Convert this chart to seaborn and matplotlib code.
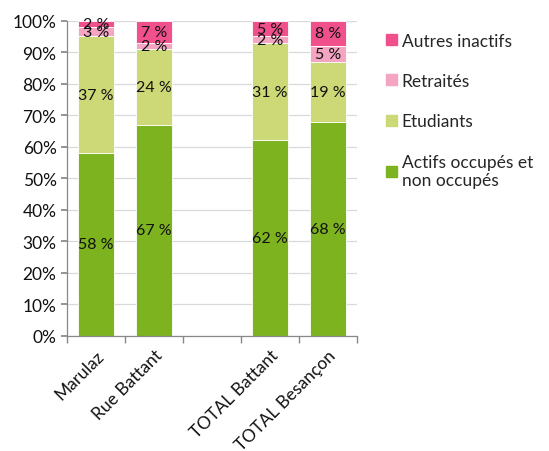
import pandas as pd
import seaborn as sns
import matplotlib.pyplot as plt
from matplotlib.patches import Patch

# %%
categories = ['Marulaz', 'Rue Battant', '', 'TOTAL Battant', 'TOTAL Besançon']
series = ['Actifs occupés et\nnon occupés', 'Etudiants', 'Retraités', 'Autres inactifs']
actifs = [58, 67, None, 62, 68]
etudiants = [37, 24, None, 31, 19]
retraites = [3, 2, None, 2, 5]
autres = [2, 7, None, 5, 8]
colors = ['#7db31f', '#cdd977', '#f4a5c1', '#f0508b']

df = pd.DataFrame({'cat': categories, series[0]: actifs, series[1]: etudiants,
                   series[2]: retraites, series[3]: autres})
df_bars = df[df['cat'] != ''].copy()

# %%
sns.set_theme(style='white')
plt.rcParams['font.family'] = ['Lato', 'DejaVu Sans']

fig = plt.figure(figsize=(5.49, 4.52), dpi=100)
ax = fig.add_axes([0.122, 0.255, 0.528, 0.697])

bottom = pd.Series([0.0] * len(df_bars), index=df_bars.index)
for s, c in zip(series, colors):
    sns.barplot(data=df_bars, x='cat', y=s, order=categories, color=c,
                bottom=bottom.values, width=0.62, ax=ax, saturation=1,
                edgecolor='white', linewidth=0.6)
    cont = ax.containers[-1]
    ax.bar_label(cont, labels=[f'{int(v)} %' for v in df_bars[s]],
                 label_type='center', fontsize=11.5, color='#111111')
    bottom = bottom + df_bars[s]

ax.set_ylim(0, 100)
ax.set_yticks(range(0, 101, 10))
ax.set_yticklabels([f'{v}%' for v in range(0, 101, 10)], fontsize=12.5, color='#111111')
ax.yaxis.grid(True, color='#d9d9d9', linewidth=0.9)
ax.set_axisbelow(True)
ax.set_xlabel('')
ax.set_ylabel('')
ax.set_xlim(-0.5, 4.5)
ax.set_xticks(range(5))
ax.set_xticklabels(categories, rotation=45, ha='right', rotation_mode='anchor', fontsize=12.5, color='#111111')
ax.tick_params(axis='x', length=0, pad=8)
ax.set_xticks([-0.5, 0.5, 1.5, 2.5, 3.5, 4.5], minor=True)
ax.tick_params(axis='x', which='minor', length=5, color='#888888', direction='out', bottom=True)
ax.tick_params(axis='y', length=4, color='#888888', direction='out', left=True)
for side in ['top', 'right']:
    ax.spines[side].set_visible(False)
for side in ['left', 'bottom']:
    ax.spines[side].set_color('#888888')
    ax.spines[side].set_linewidth(0.9)

handles = [Patch(color=c, label=s) for s, c in zip(series, colors)][::-1]
fig.legend(handles=handles, loc='upper left', bbox_to_anchor=(0.675, 0.96),
           frameon=False, fontsize=12.5, handlelength=0.6, handleheight=0.6,
           handletextpad=0.3, labelspacing=1.4)

fig.savefig('out.png', dpi=100)
